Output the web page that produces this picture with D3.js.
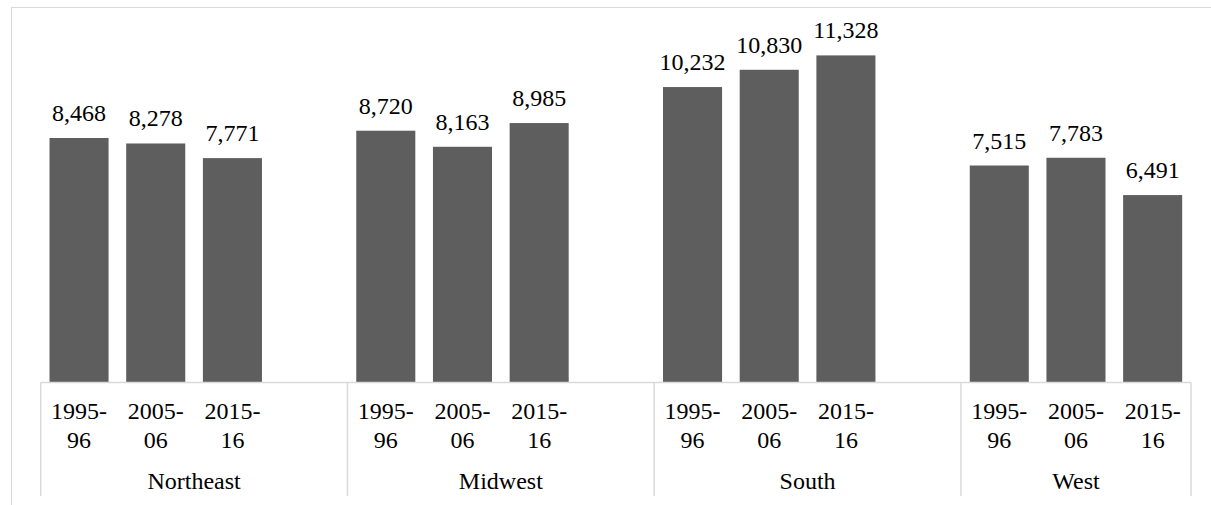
<!DOCTYPE html>
<html><head><meta charset="utf-8">
<script src="https://cdn.jsdelivr.net/npm/d3@7"></script>
</head>
<body style="margin:0">
<svg id="chart" width="1211" height="505"></svg>
<script>
const regions = ["Northeast", "Midwest", "South", "West"];
const years = ["1995-96", "2005-06", "2015-16"];
const values = {
  "Northeast": [8468, 8278, 7771],
  "Midwest": [8720, 8163, 8985],
  "South": [10232, 10830, 11328],
  "West": [7515, 7783, 6491]
};
// slots per group (blank category after each group except the last)
const slotsPerGroup = [4, 4, 4, 3];
const yMax = 12000;

const FONT = "'Liberation Serif'";
const FS = 24;
const svg = d3.select("#chart");

// outer chart frame
svg.append("rect").attr("x", 11.5).attr("y", 7.5).attr("width", 1400).attr("height", 700)
  .attr("fill", "none").attr("stroke", "#d9d9d9").attr("stroke-width", 1);

const plotLeft = 40.7, plotRight = 1191, baseY = 382.5, topY = 36;

const slots = [];
regions.forEach((r, gi) => {
  for (let k = 0; k < slotsPerGroup[gi]; k++) slots.push(r + "|" + k);
});
const x = d3.scaleBand().domain(slots).range([plotLeft, plotRight]).paddingInner(0.23).paddingOuter(0.115);
const y = d3.scaleLinear().domain([0, yMax]).range([baseY, topY]);

const bars = [];
regions.forEach(r => years.forEach((yr, k) => bars.push({region: r, year: yr, slot: r + "|" + k, value: values[r][k]})));

svg.selectAll("rect.bar").data(bars).join("rect").attr("class", "bar")
  .attr("x", d => x(d.slot))
  .attr("y", d => y(d.value))
  .attr("width", x.bandwidth())
  .attr("height", d => y(0) - y(d.value))
  .attr("fill", "#5e5e5e");

const fmt = d3.format(",");
svg.selectAll("text.val").data(bars).join("text").attr("class", "val")
  .attr("x", d => x(d.slot) + x.bandwidth() / 2)
  .attr("y", d => y(d.value) - 17)
  .attr("text-anchor", "middle")
  .attr("font-size", FS)
  .style("font-family", FONT)
  .attr("fill", "#000")
  .text(d => fmt(d.value));

// axis baseline
const step = x.step();
svg.append("line").attr("x1", plotLeft).attr("x2", plotRight).attr("y1", baseY).attr("y2", baseY)
  .attr("stroke", "#d9d9d9").attr("stroke-width", 1.5);

// group dividers
const groupBounds = [];
let acc = 0;
regions.forEach((r, gi) => {
  const start = plotLeft + acc * step;
  acc += slotsPerGroup[gi];
  const end = plotLeft + acc * step;
  groupBounds.push({region: r, start, end});
});
const divX = [plotLeft].concat(groupBounds.map(g => g.end));
svg.selectAll("line.div").data(divX).join("line").attr("class", "div")
  .attr("x1", d => d).attr("x2", d => d).attr("y1", baseY).attr("y2", 496)
  .attr("stroke", "#d9d9d9").attr("stroke-width", 1.5);

// year tick labels (two lines)
const tl = svg.selectAll("text.yr").data(bars).join("text").attr("class", "yr")
  .attr("text-anchor", "middle").attr("font-size", FS).style("font-family", FONT).attr("fill", "#000");
tl.append("tspan").attr("x", d => x(d.slot) + x.bandwidth() / 2).attr("y", 418.5)
  .text(d => d.year.split("-")[0] + "-");
tl.append("tspan").attr("x", d => x(d.slot) + x.bandwidth() / 2).attr("y", 447.5)
  .text(d => d.year.split("-")[1]);

// group labels
svg.selectAll("text.grp").data(groupBounds).join("text").attr("class", "grp")
  .attr("x", d => (d.start + d.end) / 2).attr("y", 489)
  .attr("text-anchor", "middle").attr("font-size", FS).style("font-family", FONT).attr("fill", "#000")
  .text(d => d.region);
</script>
</body></html>
